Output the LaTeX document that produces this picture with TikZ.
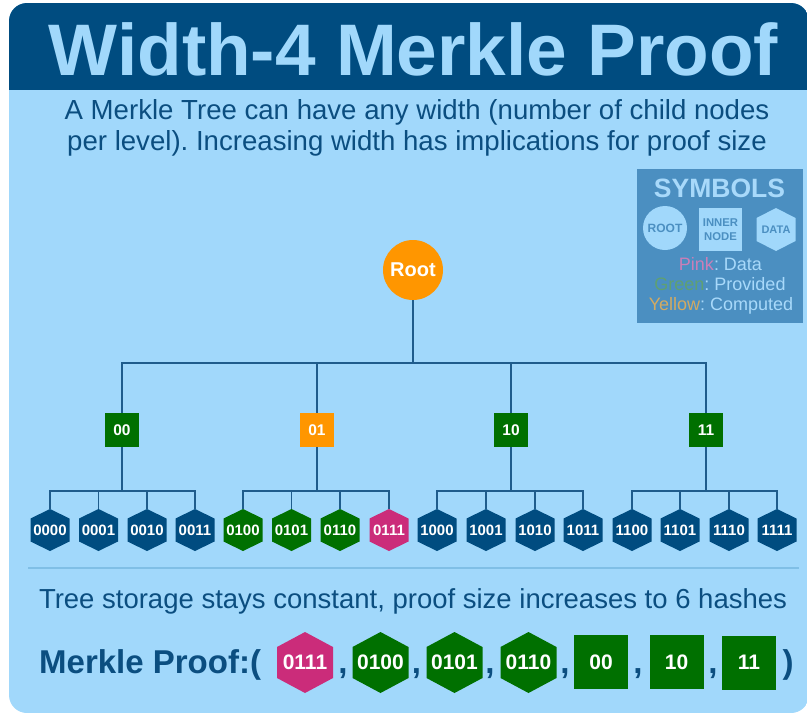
\documentclass[tikz,border=0pt]{standalone}
\usepackage{fontspec}
\setmainfont{Liberation Sans}
\frenchspacing
\definecolor{cardblue}{HTML}{A1D8FB}
\definecolor{darkblue}{HTML}{004C80}
\definecolor{textblue}{HTML}{0B4E80}
\definecolor{steel}{HTML}{4B8FC1}
\definecolor{linecol}{HTML}{1F5C8C}
\definecolor{sepcol}{HTML}{80BFE6}
\definecolor{leafgreen}{HTML}{007000}
\definecolor{rootorange}{HTML}{FF9600}
\definecolor{datapink}{HTML}{CB2C7A}
\definecolor{legpink}{HTML}{C97FB8}
\definecolor{leggreen}{HTML}{5FA072}
\definecolor{legyellow}{HTML}{D3AA62}
\definecolor{legtext}{HTML}{A8D9FA}
\newcommand\myfs[1]{\fontsize{#1}{#1}\selectfont}
\tikzset{
  txt/.style={inner sep=0, anchor=base},
  hexfill/.style 2 args={rectangle, inner sep=0,
    path picture={\fill[#1] (path picture bounding box.north)
      -- ([yshift=-#2]path picture bounding box.north east)
      -- ([yshift=#2]path picture bounding box.south east)
      -- (path picture bounding box.south)
      -- ([yshift=#2]path picture bounding box.south west)
      -- ([yshift=-#2]path picture bounding box.north west) -- cycle;}},
  leaf/.style={hexfill={#1}{9.5pt}, minimum width=39, minimum height=42, text=white,
    font=\bfseries\myfs{15}},
  inner/.style={rectangle, minimum size=34, inner sep=0, fill=#1, text=white,
    font=\bfseries\myfs{15.5}},
  prhex/.style={hexfill={#1}{15pt}, minimum width=56, minimum height=61, text=white,
    font=\bfseries\myfs{21}},
  prsq/.style={rectangle, minimum size=54, inner sep=0, fill=#1, text=white,
    font=\bfseries\myfs{21}},
  punct/.style={txt, text=textblue, font=\bfseries\myfs{33}},
  treeline/.style={draw=linecol, line width=1.5},
}
\begin{document}
\begin{tikzpicture}[x=1pt, y=-1pt]
\useasboundingbox (0,0) rectangle (807,716);
\fill[white] (0,0) rectangle (807,716);
% card
\begin{scope}
  \clip[rounded corners=18] (9,3) rectangle (809,713);
  \fill[cardblue] (9,3) rectangle (809,713);
  \fill[darkblue] (9,3) rectangle (809,90);
\end{scope}
% title and subtitle
\node[txt, text=cardblue, font=\bfseries\myfs{73}] (title) at (413.5,75) {Width-4 Merkle Proof};
\node[txt, text=textblue, font=\myfs{27.6}] (sub1) at (417,119) {A Merkle Tree can have any width (number of child nodes};
\node[txt, text=textblue, font=\myfs{27.6}] (sub2) at (417,150) {per level). Increasing width has implications for proof size};
% symbols box
\node[fill=steel, minimum width=166, minimum height=154, inner sep=0] (symbox) at (720,246) {};
\node[txt, text=legtext, font=\bfseries\myfs{26.5}] (symtitle) at (719.5,197) {SYMBOLS};
\node[circle, fill=cardblue, minimum size=44, inner sep=0, text=steel, font=\bfseries\myfs{12}] (sroot) at (665,228) {ROOT};
\node[rectangle, fill=cardblue, minimum size=43, inner sep=0, text=steel, align=center,
  font=\bfseries\fontsize{11.3}{14}\selectfont] (sinner) at (720.5,229.5) {INNER\\NODE};
\node[hexfill={cardblue}{10pt}, minimum width=39, minimum height=43, text=steel, font=\bfseries\myfs{11}] (sdata) at (776,229.5) {DATA};
\node[txt, text=legtext, font=\myfs{18}] (leg1) at (720.5,270) {\textcolor{legpink}{Pink}: Data};
\node[txt, text=legtext, font=\myfs{18}] (leg2) at (720,290) {\textcolor{leggreen}{Green}: Provided};
\node[txt, text=legtext, font=\myfs{18}] (leg3) at (721,310) {\textcolor{legyellow}{Yellow}: Computed};
% tree
\node[circle, minimum size=60, inner sep=0, fill=rootorange, text=white, font=\bfseries\myfs{20}] (root) at (413,270) {Root};
\node[inner=leafgreen] (i00) at (122,430) {00};
\node[inner=rootorange] (i01) at (317,430) {01};
\node[inner=leafgreen] (i10) at (511,430) {10};
\node[inner=leafgreen] (i11) at (706,430) {11};
\foreach \n/\x/\c in {0000/50/darkblue, 0001/98.5/darkblue, 0010/147/darkblue, 0011/195/darkblue,
  0100/243/leafgreen, 0101/291.5/leafgreen, 0110/340/leafgreen, 0111/389/datapink,
  1000/437/darkblue, 1001/486/darkblue, 1010/535/darkblue, 1011/583/darkblue,
  1100/632/darkblue, 1101/680/darkblue, 1110/729/darkblue, 1111/777/darkblue}
  {\node[leaf=\c] (l\n) at (\x,530) {\n};}
\coordinate (rbar) at (413,363);
\draw[treeline] (root.south) -- (rbar);
\foreach \i in {00,01,10,11} {\draw[treeline] (rbar) -| (i\i.north);}
\coordinate (b00) at (122,491);
\coordinate (b01) at (317,491);
\coordinate (b10) at (511,491);
\coordinate (b11) at (706,491);
\foreach \i in {00,01,10,11} {\draw[treeline] (i\i.south) -- (b\i);}
\foreach \n/\g in {0000/00,0001/00,0010/00,0011/00,0100/01,0101/01,0110/01,0111/01,
  1000/10,1001/10,1010/10,1011/10,1100/11,1101/11,1110/11,1111/11}
  {\draw[treeline] (b\g) -| (l\n.north);}
% separator
\draw[sepcol, line width=1.2] (28,568) -- (799,568);
% bottom text
\node[txt, text=textblue, font=\myfs{27.5}] (storage) at (413,608) {Tree storage stays constant, proof size increases to 6 hashes};
\node[txt, anchor=base west, text=textblue, font=\bfseries\myfs{33}] (mp) at (39,673) {Merkle Proof:(};
\node[prhex=datapink] (p1) at (305,662.5) {0111};
\node[prhex=leafgreen] (p2) at (380.5,662.5) {0100};
\node[prhex=leafgreen] (p3) at (454.5,662.5) {0101};
\node[prhex=leafgreen] (p4) at (528.5,662.5) {0110};
\node[prsq=leafgreen] (p5) at (601,662) {00};
\node[prsq=leafgreen] (p6) at (676.5,662) {10};
\node[prsq=leafgreen] (p7) at (749,662.5) {11};
\node[punct] (c1) at (343,673) {,};
\node[punct] (c2) at (416.5,673) {,};
\node[punct] (c3) at (490,673) {,};
\node[punct] (c4) at (565,673) {,};
\node[punct] (c5) at (638,673) {,};
\node[punct] (c6) at (713,673) {,};
\node[punct] (cp) at (788,673) {)};
\end{tikzpicture}
\end{document}
